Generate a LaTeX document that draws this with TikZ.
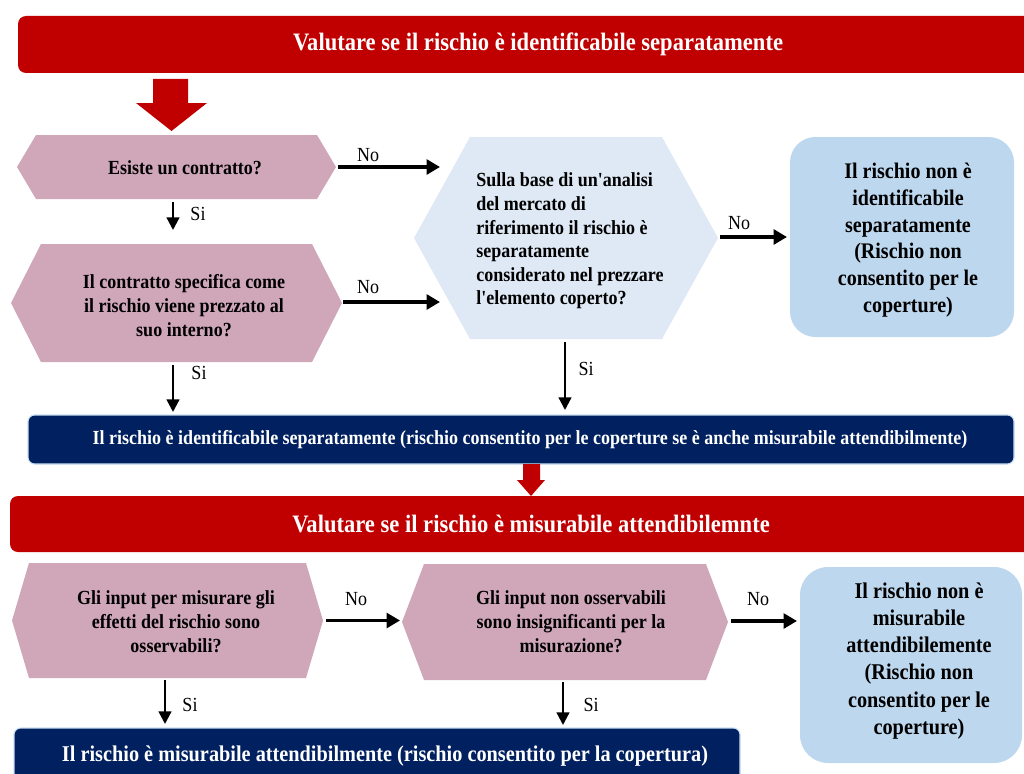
\documentclass[tikz,border=0pt]{standalone}
\usepackage{fontspec}
\setmainfont{Liberation Serif}
\newfontfamily\cnd[FakeStretch=0.9]{Liberation Serif}
\usetikzlibrary{calc,arrows.meta}
\definecolor{bred}{RGB}{192,0,0}
\definecolor{pinkh}{RGB}{208,166,185}
\definecolor{lhex}{RGB}{222,233,245}
\definecolor{lbox}{RGB}{189,215,238}
\definecolor{navy}{RGB}{0,32,96}
\newcommand\hexfill[3]{%
  \fill[#3] (#1.west) -- ($(#1.north west)+(#2,0)$) -- ($(#1.north east)+(-#2,0)$)
    -- (#1.east) -- ($(#1.south east)+(-#2,0)$) -- ($(#1.south west)+(#2,0)$) -- cycle;}
\begin{document}
\begin{tikzpicture}[x=0.75pt,y=-0.75pt,
  box/.style 2 args={minimum width=#1*0.75pt, minimum height=#2*0.75pt, inner sep=0pt, outer sep=0pt},
  htxt/.style={align=center, inner sep=0pt, font=\cnd\bfseries\fontsize{15pt}{18pt}\selectfont},
  btxt/.style={align=center, inner sep=0pt, font=\cnd\bfseries\fontsize{16.7pt}{20pt}\selectfont},
  lbl/.style={inner sep=0pt, font=\cnd\fontsize{15pt}{18pt}\selectfont},
  arr/.style={-{Triangle[length=10pt,width=11pt]}, line width=2.5pt},
  sarr/.style={-{Triangle[length=9.5pt,width=9.5pt]}, line width=1.7pt},
  banner/.style={fill=bred, rounded corners=6pt, text=white, inner sep=0pt, outer sep=0pt},
  navybox/.style={fill=navy, draw=lbox!80, line width=0.8pt, rounded corners=5pt},
  wtxt/.style={text=white, inner sep=0pt}
]
\useasboundingbox (0,0) rectangle (1024,774);
\clip (0,0) rectangle (1024,774);

% banners
\node[banner, box={1040}{57}, font=\cnd\bfseries\fontsize{18.8pt}{22pt}\selectfont] (b1) at (538,44.5)
  {Valutare se il rischio è identificabile separatamente};
\fill[bred] (153,79) -- (188,79) -- (188,103) -- (207,103) -- (171.5,131) -- (136,103) -- (153,103) -- cycle;

% shape holders
\node[box={319}{64}] (h1) at (176.5,167) {};
\node[box={331}{118}] (h2) at (176.5,303) {};
\node[box={304}{202}] (lh) at (566,238) {};
\node[box={224}{200}, fill=lbox, rounded corners=19pt] (nb1) at (902,237) {};
\hexfill{h1}{19}{pinkh}
\hexfill{h2}{30}{pinkh}
\hexfill{lh}{56}{lhex}

\node[htxt] (h1t) at (185,168) {Esiste un contratto?};
\node[htxt] (h2t) at (184,306) {Il contratto specifica come\\il rischio viene prezzato al\\suo interno?};
\node[htxt, align=left, anchor=west, font=\cnd\bfseries\fontsize{15pt}{17.7pt}\selectfont] (lht) at (476,241)
  {Sulla base di un'analisi\\del mercato di\\riferimento il rischio è\\separatamente\\considerato nel prezzare\\l'elemento coperto?};
\node[btxt] (nb1t) at (908,240) {Il rischio non è\\identificabile\\separatamente\\(Rischio non\\consentito per le\\coperture)};

% arrows section 1
\draw[arr] ($(h1.east)+(2,0)$) -- ($(h1.east)+(104,0)$);
\node[lbl] (n1) at (368,155) {No};
\draw[arr] ($(h2.east)+(1,-1)$) -- ($(h2.east)+(98,-1)$);
\node[lbl] (n2) at (368,287) {No};
\draw[sarr] ($(h1.south)+(-3.5,3)$) -- ($(h1.south)+(-3.5,31)$);
\node[lbl] (s1) at (198,214) {Si};
\draw[sarr] ($(h2.south)+(-3.5,3)$) -- ($(h2.south)+(-3.5,50)$);
\node[lbl] (s2) at (199,373) {Si};
\draw[arr] ($(lh.east)+(2,-1)$) -- ($(nb1.west)+(-3,0)$);
\node[lbl] (n3) at (739,223) {No};
\draw[sarr] ($(lh.south)+(-1,3)$) -- ($(lh.south)+(-1,71)$);
\node[lbl] (s3) at (586,369) {Si};

% navy 1
\node[navybox, box={986}{49}] (nv1) at (521,439.5) {};
\node[wtxt, font=\cnd\bfseries\fontsize{15pt}{17pt}\selectfont] (nv1t) at (530,440)
  {Il rischio è identificabile separatamente (rischio consentito per le coperture se è anche misurabile attendibilmente)};
\fill[bred] (523,464) -- (540,464) -- (540,480) -- (545,480) -- (531,496) -- (517,480) -- (523,480) -- cycle;

% banner 2
\node[banner, box={1042}{56}, font=\cnd\bfseries\fontsize{18.8pt}{22pt}\selectfont] (b2) at (531,524)
  {Valutare se il rischio è misurabile attendibilemnte};

% section 2
\node[box={311}{115}] (h3) at (167.5,620.5) {};
\node[box={326}{116}] (h4) at (565,622) {};
\node[box={222}{196}, fill=lbox, rounded corners=21pt] (nb2) at (911,665) {};
\hexfill{h3}{17}{pinkh}
\hexfill{h4}{22}{pinkh}
\node[htxt] (h3t) at (176,622) {Gli input per misurare gli\\effetti del rischio sono\\osservabili?};
\node[htxt] (h4t) at (571,622) {Gli input non osservabili\\sono insignificanti per la\\misurazione?};
\node[btxt, font=\cnd\bfseries\fontsize{16.9pt}{20.3pt}\selectfont] (nb2t) at (919,661) {Il rischio non è\\misurabile\\attendibilemente\\(Rischio non\\consentito per le\\coperture)};

\draw[arr] ($(h3.east)+(3,0)$) -- ($(h4.west)+(-2,-1.5)$);
\node[lbl] (n4) at (356,599) {No};
\draw[arr] ($(h4.east)+(3,-1)$) -- ($(nb2.west)+(-3,-44)$);
\node[lbl] (n5) at (758,599) {No};
\draw[sarr] ($(h3.south)+(-2.5,2)$) -- ($(h3.south)+(-2.5,46)$);
\node[lbl] (s4) at (190,705) {Si};
\draw[sarr] ($(h4.south)+(-2,2)$) -- ($(h4.south)+(-2,45)$);
\node[lbl] (s5) at (591,705) {Si};

\node[navybox, box={726}{82}] (nv2) at (377,769) {};
\node[wtxt, font=\cnd\bfseries\fontsize{16.9pt}{19pt}\selectfont] (nv2t) at (385,756)
  {Il rischio è misurabile attendibilmente (rischio consentito per la copertura)};
\end{tikzpicture}
\end{document}
